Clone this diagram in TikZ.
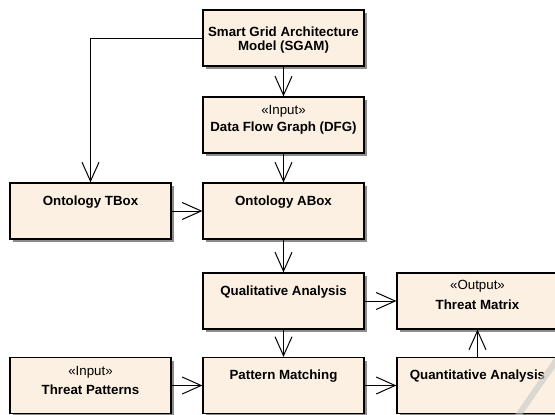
\documentclass[tikz,border=0pt]{standalone}
\usepackage{fontspec}
\setmainfont{Liberation Sans}
\usetikzlibrary{arrows.meta,shadows}
\definecolor{boxfill}{RGB}{251,240,226}
\tikzset{
  box/.style={draw=black, line width=1.2pt, fill=boxfill, minimum width=161pt, minimum height=56pt, inner sep=0pt,
    general shadow={fill=black!45, shadow xshift=3pt, shadow yshift=-3pt}},
  nm/.style={font=\fontsize{13.3}{15}\selectfont\bfseries, inner sep=0pt, anchor=center, align=center},
  st/.style={font=\fontsize{13.3}{15}\selectfont, inner sep=0pt, anchor=center},
  conn/.style={line width=1pt, -{Straight Barb[length=19pt, width=17pt, line width=1pt]}},
}
\begin{document}
\begin{tikzpicture}[x=1pt, y=-1pt]
\useasboundingbox (0,0) rectangle (555,415);
% boxes
\node[box] (sgam) at (283.5,38) {};
\node[box] (dfg)  at (283.5,125) {};
\node[box] (tbox) at (90.5,211) {};
\node[box] (abox) at (283.5,211) {};
\node[box] (qual) at (283.5,301) {};
\node[box] (tm)   at (477.5,301) {};
\node[box] (tp)   at (90.5,385.5) {};
\node[box] (pm)   at (283.5,385.5) {};
\node[box] (qa)   at (477.5,385.5) {};
% texts
\node[nm] (sgam-t1) at ([yshift=-22pt]sgam.north) {Smart Grid Architecture};
\node[nm] (sgam-t2) at ([yshift=-38pt]sgam.north) {Model (SGAM)};
\node[st] (dfg-s) at ([yshift=-15pt]dfg.north) {«Input»};
\node[nm] (dfg-t) at ([yshift=-32pt]dfg.north) {Data Flow Graph (DFG)};
\node[nm] (tbox-t) at ([yshift=-20pt]tbox.north) {Ontology TBox};
\node[nm] (abox-t) at ([yshift=-20pt]abox.north) {Ontology ABox};
\node[nm] (qual-t) at ([yshift=-19.5pt]qual.north) {Qualitative Analysis};
\node[st] (tm-s) at ([yshift=-13.5pt]tm.north) {«Output»};
\node[nm] (tm-t) at ([yshift=-32.5pt]tm.north) {Threat Matrix};
\node[st] (tp-s) at ([yshift=-15pt]tp.north) {«Input»};
\node[nm] (tp-t) at ([yshift=-33pt]tp.north) {Threat Patterns};
\node[nm] (pm-t) at ([yshift=-19.5pt]pm.north) {Pattern Matching};
\node[nm] (qa-t) at ([yshift=-19.5pt]qa.north) {Quantitative Analysis};
% connectors
\coordinate (bend) at (90.5,38);
\draw[conn] (sgam.west) -- (bend) -- (tbox.north);
\draw[conn] (sgam.south) -- (dfg.north);
\draw[conn] (dfg.south) -- (abox.north);
\draw[conn] (tbox.east) -- (abox.west);
\draw[conn] (abox.south) -- (qual.north);
\draw[conn] (qual.east) -- (tm.west);
\draw[conn] (qual.south) -- (pm.north);
\draw[conn] (tp.east) -- (pm.west);
\draw[conn] (pm.east) -- (qa.west);
\draw[conn] (qa.north) -- (tm.south);
% faint watermark stroke
\coordinate (wm1) at (565,348);
\coordinate (wm2) at (515,420);
\draw[line width=6pt, draw=black!22, opacity=0.6] (wm1) -- (wm2);
\end{tikzpicture}
\end{document}
